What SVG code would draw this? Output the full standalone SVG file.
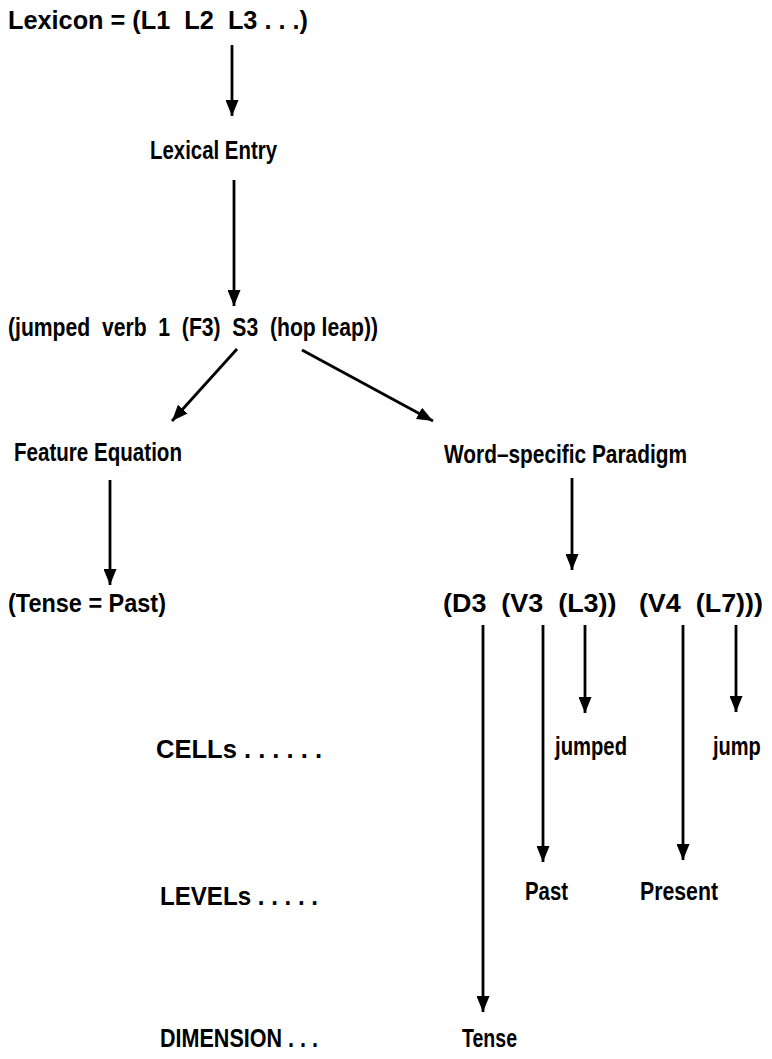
<svg xmlns="http://www.w3.org/2000/svg" width="772" height="1059" viewBox="0 0 772 1059">
<style>
text{font-family:"Liberation Sans","DejaVu Sans",sans-serif;font-size:26px;font-weight:bold;fill:#000;}
.c line{stroke:#000;stroke-width:2.8;}
</style>
<defs>
<marker id="ah" markerUnits="userSpaceOnUse" markerWidth="17" markerHeight="13" refX="16" refY="6.5" orient="auto">
<polygon points="0,0 16,6.5 0,13" fill="#000"/>
</marker>
</defs>
<rect width="772" height="1059" fill="#fff"/>
<g id="lexicon"><text x="8" y="29" textLength="300" lengthAdjust="spacingAndGlyphs" xml:space="preserve">Lexicon = (L1  L2  L3 . . .)</text></g>
<g id="lexical-entry"><text x="150" y="159" textLength="127" lengthAdjust="spacingAndGlyphs">Lexical Entry</text></g>
<g id="entry"><text x="8" y="336" textLength="370" lengthAdjust="spacingAndGlyphs" xml:space="preserve">(jumped  verb  1  (F3)  S3  (hop leap))</text></g>
<g id="feature-equation"><text x="14" y="461" textLength="168" lengthAdjust="spacingAndGlyphs">Feature Equation</text></g>
<g id="paradigm"><text x="444" y="463" textLength="243" lengthAdjust="spacingAndGlyphs">Word–specific Paradigm</text></g>
<g id="tense-past"><text x="8" y="612" textLength="158" lengthAdjust="spacingAndGlyphs">(Tense = Past)</text></g>
<g id="paradigm-list"><text x="443" y="612" textLength="320" lengthAdjust="spacingAndGlyphs" xml:space="preserve">(D3  (V3  (L3))   (V4  (L7)))</text></g>
<g id="cells-label"><text x="156" y="758" textLength="166" lengthAdjust="spacingAndGlyphs">CELLs . . . . . .</text></g>
<g id="cell-jumped"><text x="555" y="755" textLength="72" lengthAdjust="spacingAndGlyphs">jumped</text></g>
<g id="cell-jump"><text transform="translate(713,755) scale(0.77,1)" x="0" y="0">jump</text></g>
<g id="levels-label"><text x="160" y="905" textLength="158" lengthAdjust="spacingAndGlyphs">LEVELs . . . . .</text></g>
<g id="level-past"><text x="525" y="900" textLength="43" lengthAdjust="spacingAndGlyphs">Past</text></g>
<g id="level-present"><text x="640" y="900" textLength="78" lengthAdjust="spacingAndGlyphs">Present</text></g>
<g id="dimension-label"><text x="160" y="1047" textLength="158" lengthAdjust="spacingAndGlyphs">DIMENSION . . .</text></g>
<g id="dim-tense"><text x="462" y="1047" textLength="55" lengthAdjust="spacingAndGlyphs">Tense</text></g>
<g class="c" id="connectors">
<line x1="232" y1="45" x2="232" y2="116" marker-end="url(#ah)"/>
<line x1="234" y1="180" x2="234" y2="306" marker-end="url(#ah)"/>
<line x1="237" y1="349" x2="172" y2="421" marker-end="url(#ah)"/>
<line x1="302" y1="350" x2="433" y2="421" marker-end="url(#ah)"/>
<line x1="110" y1="480" x2="110" y2="585" marker-end="url(#ah)"/>
<line x1="572" y1="478" x2="572" y2="570" marker-end="url(#ah)"/>
<line x1="483" y1="625" x2="483" y2="1012" marker-end="url(#ah)"/>
<line x1="543" y1="625" x2="543" y2="862" marker-end="url(#ah)"/>
<line x1="585" y1="625" x2="585" y2="713" marker-end="url(#ah)"/>
<line x1="683" y1="625" x2="683" y2="860" marker-end="url(#ah)"/>
<line x1="736" y1="625" x2="736" y2="712" marker-end="url(#ah)"/>
</g>
</svg>
